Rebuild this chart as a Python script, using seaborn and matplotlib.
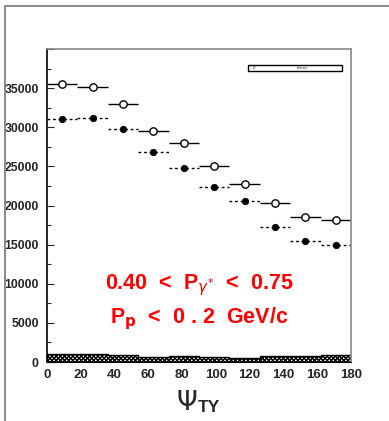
import numpy as np
import pandas as pd
import seaborn as sns
import matplotlib.pyplot as plt
from matplotlib.patches import Rectangle
from matplotlib.ticker import MultipleLocator, FuncFormatter

# bin centres of psi_TY (18 deg bins)
psi = [9, 27, 45, 63, 81, 99, 117, 135, 153, 171]
half_width = 9
open_vals = [35500, 35200, 33000, 29500, 27950, 25100, 22700, 20300, 18500, 18100]
filled_vals = [31050, 31150, 29800, 26800, 24800, 22400, 20600, 17250, 15500, 14950]
bkg_vals = [1050, 1000, 850, 700, 800, 700, 500, 750, 750, 850]
bin_edges = [0, 18, 36, 54, 72, 90, 108, 126, 144, 162, 180]

sns.set_style("white")
plt.rcParams['font.family'] = ['Liberation Sans', 'DejaVu Sans']
plt.rcParams['hatch.linewidth'] = 1.0

fig = plt.figure(figsize=(3.89, 4.21), dpi=100)
ax = fig.add_axes([0.1208, 0.1401, 0.7815, 0.7435])

# outer frame of the canvas
fig.patches.append(Rectangle((5 / 389, -0.1), 1.2, 0.1 + (421 - 6) / 421,
                             transform=fig.transFigure, fill=False,
                             edgecolor='#808080', linewidth=1.3))

df = pd.DataFrame({'psi': psi, 'open': open_vals, 'filled': filled_vals})

# background histogram
ax.stairs(bkg_vals, bin_edges, fill=True, facecolor='white', edgecolor='black',
          hatch='xxxxxxxx', linewidth=1.0)

ax.errorbar(df['psi'], df['open'], xerr=half_width, fmt='none', ecolor='black',
            elinewidth=1.0, capsize=0)
eb = ax.errorbar(df['psi'], df['filled'], xerr=half_width, fmt='none', ecolor='black',
                 elinewidth=1.0, capsize=0)
eb[2][0].set_linestyle((0, (2, 2)))

sns.scatterplot(data=df, x='psi', y='open', ax=ax, marker='o', s=28,
                facecolor='white', edgecolor='black', linewidth=1.0, zorder=5)
sns.scatterplot(data=df, x='psi', y='filled', ax=ax, marker='o', s=22,
                color='black', edgecolor='black', linewidth=0.5, zorder=5)

ax.set_xlim(0, 180)
ax.set_ylim(0, 40000)
ax.xaxis.set_major_locator(MultipleLocator(20))
ax.yaxis.set_major_locator(MultipleLocator(5000))
ax.yaxis.set_minor_locator(MultipleLocator(2500))
ax.yaxis.set_major_formatter(FuncFormatter(lambda v, p: '' if v >= 40000 else f'{v:.0f}'))
ax.tick_params(axis='y', which='major', direction='in', length=5, width=0.8,
               left=True, labelsize=8.8, pad=6)
ax.tick_params(axis='y', which='minor', direction='in', length=3, width=0.8, left=True)
ax.tick_params(axis='x', which='both', length=0, labelsize=9.5, pad=5)
for lbl in ax.get_xticklabels() + ax.get_yticklabels():
    lbl.set_fontweight('bold')

for side in ['top', 'right']:
    ax.spines[side].set_color('#888888')
    ax.spines[side].set_linewidth(1.2)
ax.spines['left'].set_color('black')
ax.spines['left'].set_linewidth(1.2)
ax.spines['bottom'].set_color('black')
ax.set_xlabel('')
ax.set_ylabel('')

# stats box (top right)
ax.add_patch(Rectangle((0.66, 0.93), 0.31, 0.018, transform=ax.transAxes,
                       fill=False, edgecolor='black', linewidth=1.0))
ax.text(0.675, 0.939, 'ID', transform=ax.transAxes, fontsize=2.5, va='center')
ax.text(0.82, 0.939, 'Entries', transform=ax.transAxes, fontsize=2.5, va='center')

ax.text(0.5, 0.245, r'0.40  <  P$_{\gamma^{*}}$  <  0.75', transform=ax.transAxes,
        color='#ff0000', fontsize=15.5, fontweight='bold', ha='center', va='center')
ax.text(0.5, 0.14, r'P$_{\mathbf{p}}$  <  0 . 2  GeV/c', transform=ax.transAxes,
        color='#ff0000', fontsize=15.5, fontweight='bold', ha='center', va='center')

fig.text(197 / 389, 1 - 402 / 421, r'$\Psi$', fontsize=19, ha='right', va='center',
         family='DejaVu Serif')
fig.text(198 / 389, 1 - 408 / 421, 'TY', fontsize=12.5, fontweight='bold',
         ha='left', va='center')

fig.savefig('out.png', dpi=100)
